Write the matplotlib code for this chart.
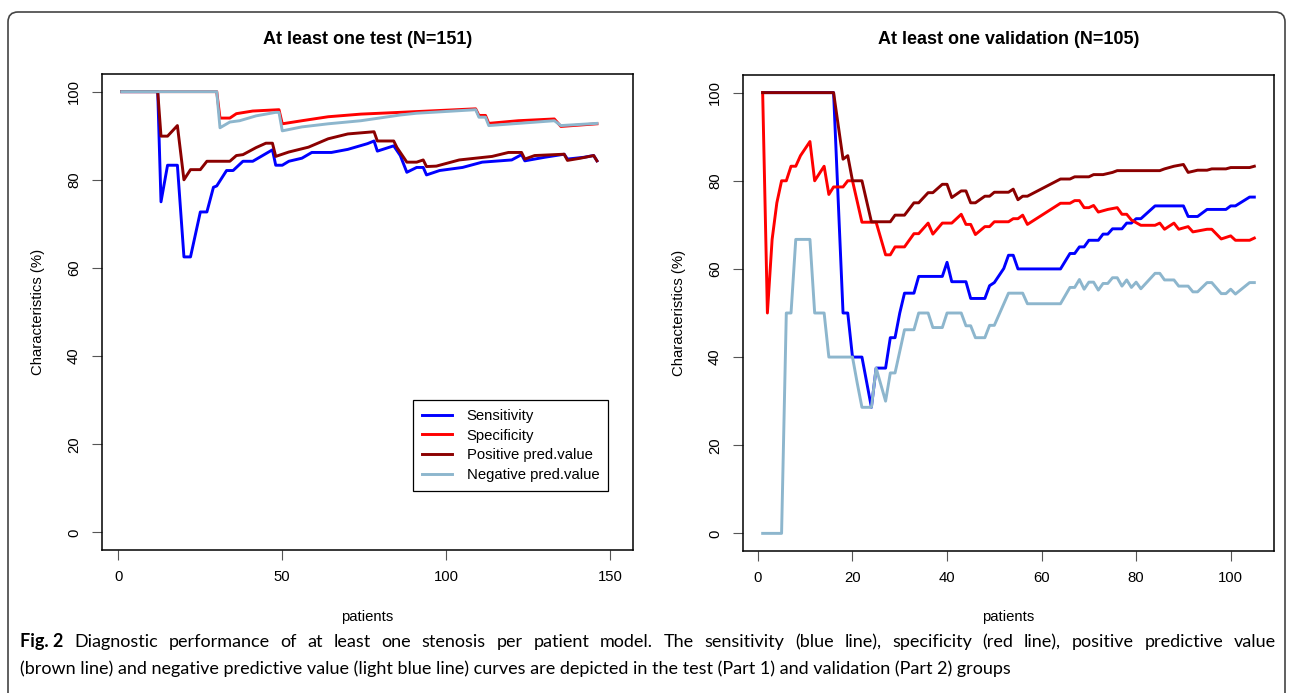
import matplotlib
matplotlib.use('Agg')
import matplotlib.pyplot as plt
from matplotlib.patches import FancyBboxPatch
from matplotlib.transforms import IdentityTransform

# --- data (vertices of each curve) ---
test_sens_x = [1, 12, 13, 15, 18, 20, 22, 25, 27, 29, 30, 33, 35, 38, 41, 44, 47, 48, 50, 52,
               56, 59, 65, 70, 76, 78, 79, 84, 86, 88, 91, 93, 94, 98, 105, 111, 120, 123, 124, 130,
               136, 137, 142, 145, 146]
test_sens_y = [100, 100, 75, 83.3, 83.3, 62.5, 62.5, 72.7, 72.7, 78.3, 78.6, 82.1, 82.1, 84.2, 84.2, 85.5, 86.8, 83.3, 83.3, 84.2,
               84.9, 86.2, 86.2, 86.9, 88.2, 88.8, 86.5, 87.7, 85.5, 81.7, 82.8, 82.8, 81.1, 82.1, 82.8, 84.0, 84.5, 85.7, 84.3, 85.1,
               85.8, 84.7, 85.1, 85.5, 84.3]

test_spec_x = [1, 30, 31, 34, 36, 41, 49, 50, 56, 64, 74, 86, 109, 110, 112, 113, 122, 133, 135, 146]
test_spec_y = [100, 100, 94.0, 94.0, 95.0, 95.6, 95.9, 92.7, 93.4, 94.3, 94.9, 95.3, 96.1, 94.6, 94.6, 92.8, 93.4, 93.8, 92.1, 92.7]

test_ppv_x = [1, 12, 13, 15, 18, 20, 22, 25, 27, 34, 36, 38, 42, 45, 47, 48, 52, 58, 64, 70,
              78, 79, 84, 85, 88, 91, 93, 94, 97, 104, 114, 119, 123, 124, 127, 136, 137, 141, 145, 146]
test_ppv_y = [100, 100, 89.9, 89.9, 92.3, 80.0, 82.3, 82.3, 84.2, 84.2, 85.5, 85.7, 87.3, 88.3, 88.3, 85.3, 86.3, 87.4, 89.3, 90.4,
              90.9, 88.8, 88.8, 87.3, 84.0, 84.0, 84.5, 83.0, 83.1, 84.5, 85.3, 86.2, 86.2, 84.7, 85.5, 85.8, 84.4, 84.9, 85.5, 84.3]

test_npv_x = [1, 30, 31, 34, 37, 42, 48, 49, 50, 56, 64, 74, 86, 91, 109, 110, 112, 113, 133, 135, 146]
test_npv_y = [100, 100, 91.8, 93.1, 93.4, 94.5, 95.3, 95.3, 91.1, 92.0, 92.7, 93.4, 94.7, 95.1, 95.9, 94.2, 94.2, 92.3, 93.4, 92.3, 92.8]

val_sens_x = [1, 16, 18, 19, 20, 22, 24, 25, 27, 28, 29, 30, 31, 33, 34, 39, 40, 41, 44, 45,
              48, 49, 50, 52, 53, 54, 55, 64, 66, 67, 68, 69, 70, 72, 73, 74, 75, 77, 78, 79,
              80, 81, 84, 90, 91, 93, 95, 99, 100, 101, 104, 105]
val_sens_y = [100, 100, 50, 50, 40, 40, 28.6, 37.5, 37.5, 44.4, 44.4, 50, 54.5, 54.5, 58.3, 58.3, 61.5, 57.1, 57.1, 53.3,
              53.3, 56.2, 56.9, 60.1, 63.1, 63.1, 60, 60, 63.5, 63.5, 65, 65, 66.5, 66.5, 67.9, 67.9, 69.1, 69.1, 70.4, 70.4,
              71.4, 71.4, 74.3, 74.3, 71.9, 71.9, 73.5, 73.5, 74.3, 74.3, 76.3, 76.3]

val_spec_x = [1, 2, 3, 4, 5, 6, 7, 8, 9, 11, 12, 14, 15, 16, 18, 19, 20, 22, 25, 27,
              28, 29, 31, 33, 34, 36, 37, 39, 41, 43, 44, 45, 46, 48, 49, 50, 53, 54, 55, 56,
              57, 64, 66, 67, 68, 69, 70, 71, 72, 74, 76, 77, 78, 79, 81, 84, 85, 86, 88, 89,
              91, 92, 95, 96, 98, 100, 101, 104, 105]
val_spec_y = [100, 50, 66.7, 75, 80, 80, 83.3, 83.3, 85.7, 88.9, 80, 83.3, 76.9, 78.6, 78.6, 80, 80, 70.6, 70.6, 63.2,
              63.2, 65, 65, 68, 68, 70.4, 67.9, 70.4, 70.4, 72.4, 70.1, 70.1, 67.8, 69.6, 69.6, 70.7, 70.7, 71.4, 71.4, 72.2,
              70.1, 74.9, 74.9, 75.5, 75.5, 73.9, 73.9, 74.4, 72.9, 73.5, 73.9, 72.4, 72.4, 71.1, 69.9, 69.9, 70.4, 69, 70.4, 69,
              69.6, 68.4, 69, 69, 66.8, 67.5, 66.5, 66.5, 67]

val_ppv_x = [1, 16, 18, 19, 20, 22, 24, 28, 29, 31, 33, 34, 36, 37, 39, 40, 41, 43, 44, 45,
             46, 48, 49, 50, 53, 54, 55, 56, 57, 64, 66, 67, 70, 71, 73, 75, 76, 85, 86, 88,
             90, 91, 93, 95, 96, 99, 100, 104, 105]
val_ppv_y = [100, 100, 84.9, 85.7, 80, 80, 70.7, 70.7, 72.2, 72.2, 75, 75, 77.3, 77.3, 79.2, 79.2, 76.2, 77.7, 77.7, 75,
             75, 76.5, 76.5, 77.4, 77.4, 78.1, 75.7, 76.5, 76.5, 80.4, 80.4, 80.9, 80.9, 81.4, 81.4, 81.9, 82.3, 82.3, 82.7, 83.3,
             83.7, 81.9, 82.4, 82.4, 82.7, 82.7, 83, 83, 83.3]

val_npv_x = [1, 5, 6, 7, 8, 11, 12, 14, 15, 20, 21, 22, 24, 25, 27, 28, 29, 31, 33, 34,
             36, 37, 39, 40, 43, 44, 45, 46, 48, 49, 50, 53, 56, 57, 64, 66, 67, 68, 69, 70,
             71, 72, 73, 74, 75, 76, 77, 78, 79, 80, 81, 84, 85, 86, 88, 89, 91, 92, 93, 95,
             96, 98, 99, 100, 101, 104, 105]
val_npv_y = [0, 0, 50, 50, 66.7, 66.7, 50, 50, 40, 40, 34.1, 28.6, 28.6, 37.5, 30, 36.4, 36.4, 46.2, 46.2, 50,
             50, 46.7, 46.7, 50, 50, 47.1, 47.1, 44.4, 44.4, 47.2, 47.2, 54.5, 54.5, 52.1, 52.1, 55.8, 55.8, 57.6, 55.4, 57,
             57, 55.2, 56.7, 56.7, 58, 58, 56.1, 57.5, 55.8, 57, 55.5, 59, 59, 57.5, 57.5, 56.1, 56.1, 54.8, 54.8, 56.9,
             56.9, 54.4, 54.4, 55.4, 54.3, 56.9, 56.9]

series_names = ['Sensitivity', 'Specificity', 'Positive pred.value', 'Negative pred.value']
series_colors = ['#0000FF', '#FF0000', '#8B0000', '#8DB6CD']

caption_bold = 'Fig. 2'
caption_line1 = ('Diagnostic performance of at least one stenosis per patient model. The sensitivity (blue line), '
                 'specificity (red line), positive predictive value')
caption_line2 = ('(brown line) and negative predictive value (light blue line) curves are depicted in the test '
                 '(Part 1) and validation (Part 2) groups')

# --- layout ---
W, H = 1292, 693
plt.rcParams['font.family'] = ['Liberation Sans', 'DejaVu Sans']
fig = plt.figure(figsize=(W / 100, H / 100), dpi=100)


def fx(px):
    return px / W


def fy(py):
    return 1 - py / H


fs = 10.7

panels = [
    dict(box=(102, 74, 633, 550), xlim=(-5, 157), xticks=[0, 50, 100, 150],
         title='At least one test (N=151)',
         data=[(test_sens_x, test_sens_y), (test_spec_x, test_spec_y),
               (test_ppv_x, test_ppv_y), (test_npv_x, test_npv_y)]),
    dict(box=(743, 75, 1274, 551), xlim=(-3.16, 109.16), xticks=[0, 20, 40, 60, 80, 100],
         title='At least one validation (N=105)',
         data=[(val_sens_x, val_sens_y), (val_spec_x, val_spec_y),
               (val_ppv_x, val_ppv_y), (val_npv_x, val_npv_y)]),
]

axes = []
for p in panels:
    x0, y0, x1, y1 = p['box']
    ax = fig.add_axes([fx(x0), fy(y1), (x1 - x0) / W, (y1 - y0) / H])
    for (xs, ys), col, name in zip(p['data'], series_colors, series_names):
        ax.plot(xs, ys, color=col, lw=2.1, label=name, solid_joinstyle='round')
    ax.set_xlim(*p['xlim'])
    ax.set_ylim(-4, 104)
    ax.set_xticks(p['xticks'])
    ax.set_xticklabels([str(t) for t in p['xticks']], fontsize=fs)
    ax.set_yticks([0, 20, 40, 60, 80, 100])
    ax.set_yticklabels(['0', '20', '40', '60', '80', '100'], fontsize=fs, rotation=90, va='center')
    ax.tick_params(direction='out', length=7.2, width=0.8, color='#555555')
    ax.tick_params(axis='x', pad=7)
    ax.tick_params(axis='y', pad=8)
    for sp in ax.spines.values():
        sp.set_linewidth(1.1)
        sp.set_color('black')
    cx = (x0 + x1) / 2
    cy = (y0 + y1) / 2
    fig.text(fx(cx), fy(40), p['title'], ha='center', va='center', fontsize=13, fontweight='bold')
    fig.text(fx(cx), fy(617), 'patients', ha='center', va='center', fontsize=fs)
    fig.text(fx(x0 - 64), fy(cy), 'Characteristics (%)', ha='center', va='center', rotation=90, fontsize=fs)
    axes.append(ax)

leg = axes[0].legend(loc='upper left', bbox_to_anchor=(fx(413), fy(400)), bbox_transform=fig.transFigure,
                     fancybox=False, edgecolor='black', framealpha=1, borderaxespad=0,
                     handlelength=2.0, handletextpad=1.0, labelspacing=0.38, borderpad=0.6, fontsize=fs)
leg.get_frame().set_linewidth(0.9)

# outer rounded frame of the article figure
frame = FancyBboxPatch((8, -60), 1277, H - 12 + 60, boxstyle='round,pad=0,rounding_size=10',
                       transform=IdentityTransform(), fill=False, ec='#444444', lw=1.2)
fig.add_artist(frame)

# caption: last line at natural width, first line justified to the full width
cap_font = ['Lato', 'DejaVu Sans']
r = fig.canvas.get_renderer()
t_two = fig.text(fx(20), fy(669), caption_line2, ha='left', va='center', fontsize=12, family=cap_font)
size = 12 * 990 / t_two.get_window_extent(r).width
t_two.set_fontsize(size)

t_bold = fig.text(fx(20), fy(642), caption_bold, ha='left', va='center', fontsize=size,
                  fontweight='bold', family=cap_font)
words = caption_line1.split(' ')
word_texts = [fig.text(0, fy(642), w, ha='left', va='center', fontsize=size, family=cap_font) for w in words]
bold_w = t_bold.get_window_extent(r).width
widths = [t.get_window_extent(r).width for t in word_texts]
gap = (1256 - bold_w - sum(widths)) / len(words)
xpos = 20 + bold_w + gap
for t, w in zip(word_texts, widths):
    t.set_x(fx(xpos))
    xpos += w + gap

fig.savefig('out.png', dpi=100)
